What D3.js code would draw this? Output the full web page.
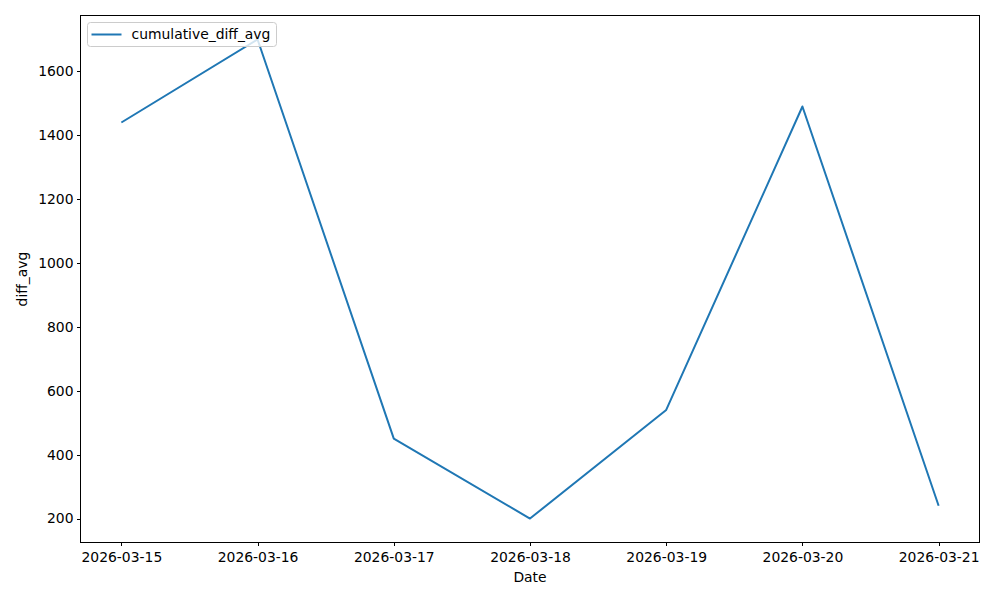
<!DOCTYPE html>
<html>
<head>
<meta charset="utf-8">
<script src="https://cdn.jsdelivr.net/npm/d3@7"></script>
<style>
  body { margin: 0; background: #fff; }
  svg text { font-family: "DejaVu Sans", sans-serif; font-size: 13.9px; fill: #000; }
</style>
</head>
<body>
<div id="chart"></div>
<script>
// data
var dates = ["2026-03-15", "2026-03-16", "2026-03-17", "2026-03-18", "2026-03-19", "2026-03-20", "2026-03-21"];
var diffAvg = [1440, 1700, 450, 200, 540, 1490, 240];
var yTicks = [200, 400, 600, 800, 1000, 1200, 1400, 1600];
var seriesName = "cumulative_diff_avg";

var width = 1000, height = 600;
var margin = {top: 15.5, right: 20.5, bottom: 57.5, left: 80.5};
var color = "#1f77b4";

var parse = d3.timeParse("%Y-%m-%d");
var data = dates.map(function(d, i) { return {date: parse(d), value: diffAvg[i]}; });

var svg = d3.select("#chart").append("svg")
    .attr("width", width)
    .attr("height", height);

// matplotlib-ish 5% margins
var t0 = data[0].date, t1 = data[data.length - 1].date;
var span = t1 - t0;
var x = d3.scaleTime()
    .domain([new Date(+t0 - span * 0.05), new Date(+t1 + span * 0.05)])
    .range([margin.left, width - margin.right]);

var ymin = d3.min(diffAvg), ymax = d3.max(diffAvg);
var ypad = (ymax - ymin) * 0.05;
var y = d3.scaleLinear()
    .domain([ymin - ypad, ymax + ypad])
    .range([height - margin.bottom, margin.top]);

var xAxis = d3.axisBottom(x)
    .tickValues(data.map(function(d) { return d.date; }))
    .tickFormat(d3.timeFormat("%Y-%m-%d"))
    .tickSize(3.5).tickPadding(3.5);

var yAxis = d3.axisLeft(y)
    .tickValues(yTicks)
    .tickFormat(d3.format("d"))
    .tickSize(3.5).tickPadding(3.5);

var gx = svg.append("g")
    .attr("transform", "translate(0," + (height - margin.bottom) + ")")
    .call(xAxis);
var gy = svg.append("g")
    .attr("transform", "translate(" + margin.left + ",0)")
    .call(yAxis);

[gx, gy].forEach(function(g) {
  g.select(".domain").remove();
  g.selectAll("line").attr("stroke", "#000").attr("stroke-width", 1)
    .attr("shape-rendering", "crispEdges");
  g.selectAll("text").style("font-size", "13.9px").attr("fill", "#000")
    .style("font-family", "DejaVu Sans, sans-serif");
});
gx.selectAll("text").attr("dy", "0.9em");

// line
var line = d3.line()
    .x(function(d) { return x(d.date); })
    .y(function(d) { return y(d.value); });

svg.append("path")
    .datum(data)
    .attr("fill", "none")
    .attr("stroke", color)
    .attr("stroke-width", 2)
    .attr("stroke-linejoin", "round")
    .attr("d", line);

// frame
svg.append("rect")
    .attr("x", margin.left).attr("y", margin.top)
    .attr("width", width - margin.left - margin.right)
    .attr("height", height - margin.top - margin.bottom)
    .attr("fill", "none").attr("stroke", "#000").attr("stroke-width", 1);

// axis labels
svg.append("text")
    .attr("x", (margin.left + width - margin.right) / 2)
    .attr("y", 582)
    .attr("text-anchor", "middle")
    .text("Date");

svg.append("text")
    .attr("transform", "translate(27," + ((margin.top + height - margin.bottom) / 2) + ") rotate(-90)")
    .attr("text-anchor", "middle")
    .text("diff_avg");

// legend
var lg = svg.append("g").attr("transform", "translate(87.5,22.5)");
lg.append("rect")
    .attr("width", 189).attr("height", 24)
    .attr("rx", 3)
    .attr("fill", "#fff").attr("fill-opacity", 0.8)
    .attr("stroke", "#ccc").attr("stroke-width", 1);
lg.append("line")
    .attr("x1", 4).attr("x2", 34).attr("y1", 12).attr("y2", 12)
    .attr("stroke", color).attr("stroke-width", 2);
lg.append("text")
    .attr("x", 44).attr("y", 12).attr("dy", "0.35em")
    .text(seriesName);
</script>
</body>
</html>
